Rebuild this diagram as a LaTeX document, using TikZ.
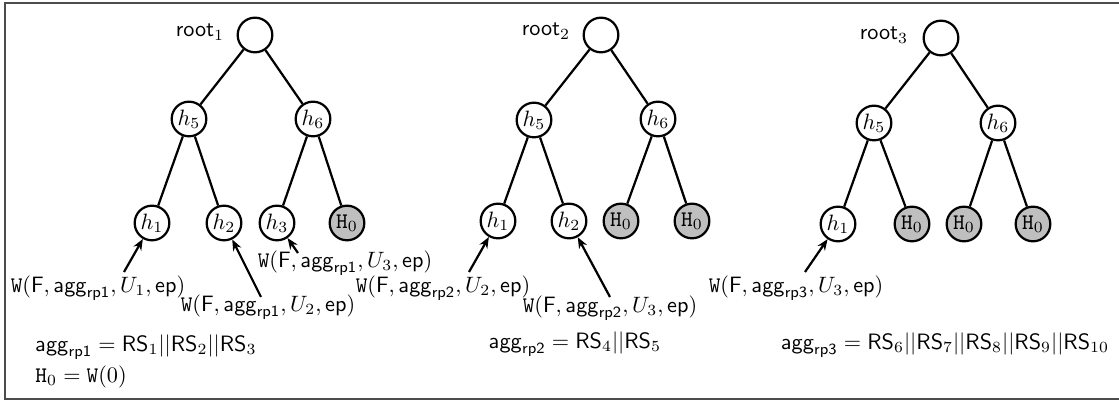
\documentclass[tikz,border=0pt]{standalone}
\usetikzlibrary{arrows.meta}
\begin{document}
\begin{tikzpicture}[x=0.45pt,y=-0.45pt,
  nd/.style={circle,draw,line width=1pt,minimum size=15.6pt,inner sep=0pt},
  hz/.style={nd,fill=black!25},
  edge/.style={line width=1pt},
  arr/.style={line width=1pt,-{Stealth[length=5pt,width=4pt]}},
  lbl/.style={inner sep=0pt},
  wl/.style={lbl,font=\fontsize{9.6pt}{11pt}\selectfont}]
\useasboundingbox (0,0) rectangle (1119,402);
\draw[black!70,line width=0.6pt] (5,3) rectangle (1125,399);
% tree 1
\node[nd] (r1) at (255,35) {};
\node[lbl] (lr1) at (200,32) {$\mathsf{root}_1$};
\node[nd] (a5) at (189,119) {$h_5$};
\node[nd] (a6) at (313,119) {$h_6$};
\node[nd] (a1) at (152,223) {$h_1$};
\node[nd] (a2) at (224,223) {$h_2$};
\node[nd] (a3) at (277,223) {$h_3$};
\node[hz] (a0) at (347,223) {$\mathtt{H}_0$};
\draw[edge] (r1) -- (a5); \draw[edge] (r1) -- (a6);
\draw[edge] (a5) -- (a1); \draw[edge] (a5) -- (a2);
\draw[edge] (a6) -- (a3); \draw[edge] (a6) -- (a0);
\node[wl] (w11) at (98,288) {$\mathtt{W}(\mathsf{F},\mathsf{agg}_{\mathsf{rp1}},U_1,\mathsf{ep})$};
\node[wl] (w12) at (268,307) {$\mathtt{W}(\mathsf{F},\mathsf{agg}_{\mathsf{rp1}},U_2,\mathsf{ep})$};
\node[wl] (w13) at (345,263) {$\mathtt{W}(\mathsf{F},\mathsf{agg}_{\mathsf{rp1}},U_3,\mathsf{ep})$};
\coordinate (t11) at (124,272);
\coordinate (t12) at (261,297);
\coordinate (t13) at (298,253);
\draw[arr] (t11) -- (a1);
\draw[arr] (t12) -- (a2);
\draw[arr] (t13) -- (a3);
\node[lbl,anchor=west] (g1) at (35,347) {$\mathsf{agg}_{\mathsf{rp1}}=\mathsf{RS}_1||\mathsf{RS}_2||\mathsf{RS}_3$};
\node[lbl,anchor=west] (h0) at (35,377) {$\mathtt{H}_0=\mathtt{W}(0)$};
% tree 2
\node[nd] (r2) at (601,35) {};
\node[lbl] (lr2) at (546,31) {$\mathsf{root}_2$};
\node[nd] (b5) at (534,120) {$h_5$};
\node[nd] (b6) at (658,119) {$h_6$};
\node[nd] (b1) at (498,221) {$h_1$};
\node[nd] (b2) at (569,221) {$h_2$};
\node[hz] (b3) at (621,221) {$\mathtt{H}_0$};
\node[hz] (b4) at (692,221) {$\mathtt{H}_0$};
\draw[edge] (r2) -- (b5); \draw[edge] (r2) -- (b6);
\draw[edge] (b5) -- (b1); \draw[edge] (b5) -- (b2);
\draw[edge] (b6) -- (b3); \draw[edge] (b6) -- (b4);
\node[wl] (w22) at (443,288) {$\mathtt{W}(\mathsf{F},\mathsf{agg}_{\mathsf{rp2}},U_2,\mathsf{ep})$};
\node[wl] (w23) at (610,308) {$\mathtt{W}(\mathsf{F},\mathsf{agg}_{\mathsf{rp2}},U_3,\mathsf{ep})$};
\coordinate (t22) at (469,272);
\coordinate (t23) at (610,297);
\draw[arr] (t22) -- (b1);
\draw[arr] (t23) -- (b2);
\node[lbl] (g2) at (575,344) {$\mathsf{agg}_{\mathsf{rp2}}=\mathsf{RS}_4||\mathsf{RS}_5$};
% tree 3
\node[nd] (r3) at (941,38) {};
\node[lbl] (lr3) at (884,35) {$\mathsf{root}_3$};
\node[nd] (c5) at (874,123) {$h_5$};
\node[nd] (c6) at (998,123) {$h_6$};
\node[nd] (c1) at (838,224) {$h_1$};
\node[hz] (c2) at (912,224) {$\mathtt{H}_0$};
\node[hz] (c3) at (964,224) {$\mathtt{H}_0$};
\node[hz] (c4) at (1033,224) {$\mathtt{H}_0$};
\draw[edge] (r3) -- (c5); \draw[edge] (r3) -- (c6);
\draw[edge] (c5) -- (c1); \draw[edge] (c5) -- (c2);
\draw[edge] (c6) -- (c3); \draw[edge] (c6) -- (c4);
\node[wl] (w33) at (796,288) {$\mathtt{W}(\mathsf{F},\mathsf{agg}_{\mathsf{rp3}},U_3,\mathsf{ep})$};
\coordinate (t33) at (805,272);
\draw[arr] (t33) -- (c1);
\node[lbl] (g3) at (945,345) {$\mathsf{agg}_{\mathsf{rp3}}=\mathsf{RS}_6||\mathsf{RS}_7||\mathsf{RS}_8||\mathsf{RS}_9||\mathsf{RS}_{10}$};
\end{tikzpicture}
\end{document}
